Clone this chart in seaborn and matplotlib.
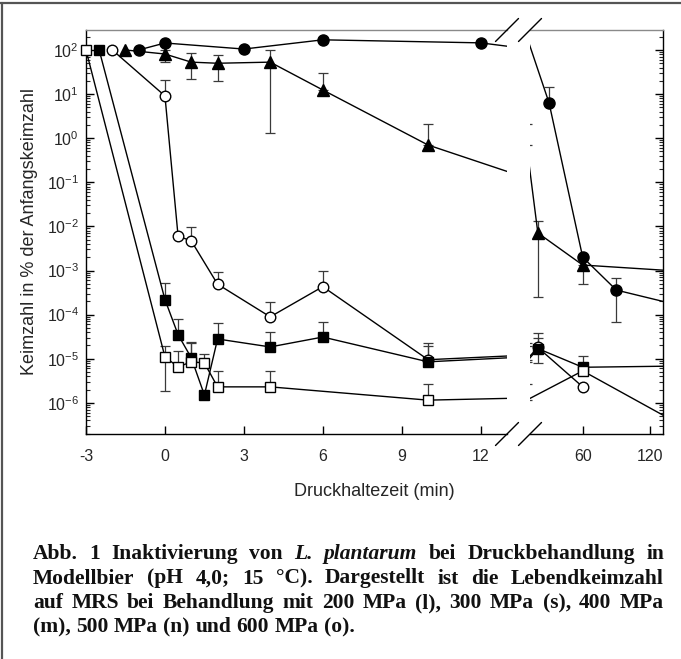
import numpy as np
import pandas as pd
import matplotlib
matplotlib.use("Agg")
import matplotlib.pyplot as plt
import seaborn as sns
from matplotlib.lines import Line2D
from matplotlib.ticker import FixedLocator, FixedFormatter, LogLocator, NullFormatter

nan = np.nan

# ---------------- data ----------------
# 200 MPa (filled circle)
t_200 = [-1, 0, 3, 6, 12, 30, 60, 90, 180]
v_200 = [100, 144, 105, 170, 145, 6.3, 2.0e-3, 3.6e-4, 1.0e-4]
hi_200 = [nan, nan, nan, nan, nan, 14.5, nan, 6.7e-4, nan]
lo_200 = [nan, nan, nan, nan, nan, nan, nan, 6.8e-5, nan]

# 300 MPa (filled triangle)
t_300 = [-1.5, 0, 1, 2, 4, 6, 10, 20, 60, 180]
v_300 = [100, 81, 53, 50, 53, 12.4, 0.70, 7.1e-3, 1.33e-3, 8.5e-4]
hi_300 = [nan, 100, 85, 77, 100, 30, 2.1, 1.3e-2, nan, nan]
lo_300 = [nan, 53, 22, 20, 1.3, nan, nan, 2.5e-4, 4.9e-4, nan]

# 400 MPa (open circle)
t_400 = [-2, 0, 0.5, 1, 2, 4, 6, 10, 20, 60]
v_400 = [100, 9.1, 6.0e-3, 4.7e-3, 4.9e-4, 8.9e-5, 4.3e-4, 9.5e-6, 1.8e-5, 2.3e-6]
hi_400 = [nan, 21, nan, 9.9e-3, 9.3e-4, 1.9e-4, 9.8e-4, 2.3e-5, 3.0e-5, nan]
lo_400 = [nan] * 10

# 500 MPa (filled square)
t_500 = [-2.5, 0, 0.5, 1, 1.5, 2, 4, 6, 10, 20, 60, 180]
v_500 = [100, 2.2e-4, 3.5e-5, 1.05e-5, 1.5e-6, 2.8e-5, 1.85e-5, 3.1e-5, 8.5e-6, 1.7e-5, 6.4e-6, 7.0e-6]
hi_500 = [nan, 5.2e-4, 8.0e-5, 2.3e-5, nan, 6.4e-5, 4.1e-5, 6.8e-5, 1.9e-5, 3.8e-5, nan, nan]
lo_500 = [nan, nan, nan, nan, nan, nan, nan, nan, nan, 8.0e-6, nan, nan]

# 600 MPa (open square)
t_600 = [-3, 0, 0.5, 1, 1.5, 2, 4, 10, 60, 180]
v_600 = [100, 1.1e-5, 6.5e-6, 8.5e-6, 8.0e-6, 2.3e-6, 2.3e-6, 1.15e-6, 5.3e-6, 1.1e-7]
hi_600 = [nan, 1.9e-5, 1.5e-5, 2.4e-5, 1.3e-5, 5.2e-6, 5.2e-6, 2.7e-6, 1.15e-5, nan]
lo_600 = [nan, 1.9e-6, nan, nan, nan, nan, nan, nan, nan, nan]

x_ticks_left = [-3, 0, 3, 6, 9, 12]
x_ticks_right = [60, 120]
y_decades = [-6, -5, -4, -3, -2, -1, 0, 1, 2]

xlabel = "Druckhaltezeit (min)"
ylabel = "Keimzahl in % der Anfangskeimzahl"

caption_lines = [
    [("Abb.", "normal"), ("1", "normal"), ("Inaktivierung", "normal"), ("von", "normal"),
     ("L.", "italic"), ("plantarum", "italic"), ("bei", "normal"), ("Druckbehandlung", "normal"), ("in", "normal")],
    [(w, "normal") for w in "Modellbier (pH 4,0; 15 °C). Dargestellt ist die Lebendkeimzahl".split(" ")],
    [(w, "normal") for w in "auf MRS bei Behandlung mit 200 MPa (l), 300 MPa (s), 400 MPa".split(" ")],
    [(w, "normal") for w in "(m), 500 MPa (n) und 600 MPa (o).".split(" ")],
]

series = [
    ("200 MPa", t_200, v_200, hi_200, lo_200, "o", "black", 8.0),
    ("300 MPa", t_300, v_300, hi_300, lo_300, "^", "black", 8.0),
    ("400 MPa", t_400, v_400, hi_400, lo_400, "o", "white", 7.6),
    ("500 MPa", t_500, v_500, hi_500, lo_500, "s", "black", 6.6),
    ("600 MPa", t_600, v_600, hi_600, lo_600, "s", "white", 6.6),
]

# ---------------- figure ----------------
sns.set_style("ticks")
plt.rcParams["font.family"] = ["Liberation Sans", "DejaVu Sans"]
plt.rcParams["mathtext.default"] = "regular"

W, H = 681, 659
fig = plt.figure(figsize=(W / 100, H / 100), dpi=100)

def fx(px):
    return px / W

def fy(py):
    return 1 - py / H

ax_l, ax_r_edge = 86, 507
ax2_l, ax2_r = 530, 663
ax_top, ax_bot = 30, 434

ax1 = fig.add_axes([fx(ax_l), fy(ax_bot), fx(ax_r_edge - ax_l), (ax_bot - ax_top) / H])
ax2 = fig.add_axes([fx(ax2_l), fy(ax_bot), fx(ax2_r - ax2_l), (ax_bot - ax_top) / H], sharey=ax1)

ylim = (10 ** -6.707, 10 ** 2.453)
for ax in (ax1, ax2):
    ax.set_yscale("log")
    ax.set_facecolor("white")

xlims = {ax1: (-3, 13), ax2: (13, 131.6)}

for ax in (ax1, ax2):
    lo_x, hi_x = xlims[ax]
    # lines (clipped) and error bars
    for name, t, v, hi, lo, mk, face, ms in series:
        df = pd.DataFrame({"t": t, "v": v})
        sns.lineplot(data=df, x="t", y="v", ax=ax, color="black", linewidth=1.0,
                     estimator=None, sort=True, legend=False, zorder=2)
        t_a, v_a = np.array(t, float), np.array(v, float)
        hi_a, lo_a = np.array(hi, float), np.array(lo, float)
        m = ~(np.isnan(hi_a) & np.isnan(lo_a))
        up = np.where(np.isnan(hi_a), 0, hi_a - v_a)
        dn = np.where(np.isnan(lo_a), 0, v_a - lo_a)
        if m.any():
            ax.errorbar(t_a[m], v_a[m], yerr=[dn[m], up[m]], fmt="none", ecolor="#3a3a3a",
                        elinewidth=0.9, capsize=3.6, capthick=0.9, zorder=1.5)
    # markers (drawn on top, not clipped, only points inside this panel)
    for name, t, v, hi, lo, mk, face, ms in series:
        df = pd.DataFrame({"t": t, "v": v})
        df = df[(df.t >= lo_x) & (df.t <= hi_x)]
        sns.lineplot(data=df, x="t", y="v", ax=ax, color="black", linestyle="none",
                     marker=mk, markersize=ms, markerfacecolor=face, markeredgecolor="black",
                     markeredgewidth=1.0, estimator=None, legend=False, zorder=3, clip_on=False)
    ax.set_xlim(*xlims[ax])
    ax.set_ylim(*ylim)
    ax.set_xlabel("")
    ax.set_ylabel("")

# y ticks
ax1.yaxis.set_major_locator(FixedLocator([10.0 ** d for d in y_decades]))
ax1.yaxis.set_major_formatter(FixedFormatter([r"$\mathregular{10^{%d}}$" % d for d in y_decades]))
ax1.yaxis.set_minor_locator(LogLocator(base=10, subs=np.arange(2, 10), numticks=30))
ax1.yaxis.set_minor_formatter(NullFormatter())

ax1.set_xticks(x_ticks_left)
ax1.set_xticklabels([str(v) for v in x_ticks_left])
ax2.set_xticks(x_ticks_right)
ax2.set_xticklabels([str(v) for v in x_ticks_right])

for ax in (ax1, ax2):
    ax.tick_params(axis="both", which="major", direction="in", length=6, width=1.0,
                   labelsize=11.5, color="black")
    ax.tick_params(axis="both", which="minor", direction="in", length=3, width=0.8)
    ax.tick_params(axis="x", pad=11)
    ax.xaxis.set_ticks_position("bottom")
    ax.xaxis.set_minor_locator(FixedLocator([]))

ax1.yaxis.set_ticks_position("left")
ax1.tick_params(axis="y", pad=5)
ax2.yaxis.set_ticks_position("right")
ax2.tick_params(axis="y", labelright=False, labelleft=False)

ax1.spines["right"].set_visible(False)
ax2.spines["left"].set_visible(False)
for ax in (ax1, ax2):
    for s in ("left", "right", "bottom"):
        ax.spines[s].set_color("black")
        ax.spines[s].set_linewidth(1.0)
    ax.spines["top"].set_color("#8a8a8a")
    ax.spines["top"].set_linewidth(1.0)

# axis-break marks
d = 11.5
for yy in (ax_top, ax_bot):
    for xx in (ax_r_edge, ax2_l):
        fig.add_artist(Line2D([fx(xx - d), fx(xx + d)], [fy(yy + d), fy(yy - d)],
                              color="black", lw=1.0, transform=fig.transFigure))

# axis labels
fig.text(fx(374), fy(492), xlabel, ha="center", va="center", fontsize=13)
fig.text(fx(30), fy(231), ylabel, ha="center", va="center", rotation=90, fontsize=13)

# frame lines of the scanned page
fig.add_artist(Line2D([0, 1], [fy(3), fy(3)], color="#555555", lw=1.6, transform=fig.transFigure))
fig.add_artist(Line2D([fx(2), fx(2)], [fy(3), 0], color="#555555", lw=1.6, transform=fig.transFigure))

# caption (bold serif, justified)
cap_fs = 15.5
cap_left, cap_right = 33, 664
baselines = [559, 583.5, 608, 632.5]
renderer = fig.canvas.get_renderer()

def word_w(word, style, fs):
    t = fig.text(0, 0, word, fontsize=fs, family="Liberation Serif", weight="bold", style=style)
    w = t.get_window_extent(renderer).width
    t.remove()
    return w

# shrink the font slightly if a justified line would get too tight
while True:
    space_w = word_w("a a", "normal", cap_fs) - word_w("aa", "normal", cap_fs)
    ok = True
    for line in caption_lines[:-1]:
        tot = sum(word_w(w, s, cap_fs) for w, s in line)
        if (cap_right - cap_left - tot) / (len(line) - 1) < 0.75 * space_w:
            ok = False
    if ok or cap_fs <= 12:
        break
    cap_fs -= 0.25

for i, line in enumerate(caption_lines):
    widths = [word_w(w, s, cap_fs) for w, s in line]
    if i < len(caption_lines) - 1:
        gap = (cap_right - cap_left - sum(widths)) / (len(line) - 1)
    else:
        gap = space_w
    x = cap_left
    for (w, s), wd in zip(line, widths):
        fig.text(fx(x), fy(baselines[i]), w, fontsize=cap_fs, family="Liberation Serif",
                 weight="bold", style=s, ha="left", va="baseline", color="#111111")
        x += wd + gap

fig.savefig("out.png", dpi=100, facecolor="white")
